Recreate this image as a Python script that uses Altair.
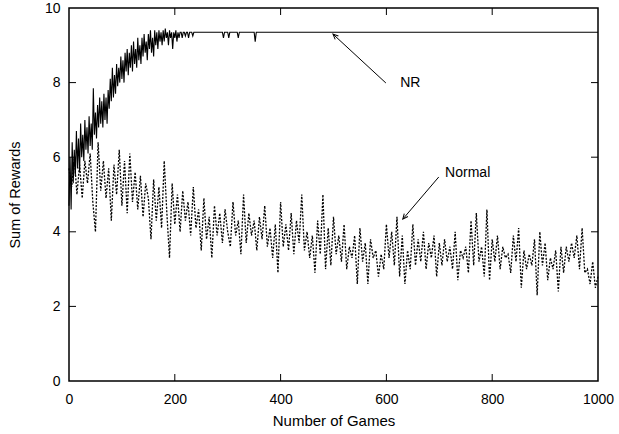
import altair as alt
import pandas as pd

# ---------------- data ----------------
normal_games = list(range(0, 1001, 5))
normal_values = [
    5.7, 5.2, 6.0, 5.0, 5.8, 4.9, 5.9, 5.3, 6.1, 4.8,
    4.0, 6.4, 5.1, 5.9, 4.9, 5.7, 4.3, 5.8, 5.0, 6.2,
    4.7, 5.9, 4.5, 6.1, 4.8, 5.6, 4.6, 5.5, 4.4, 5.3,
    4.9, 3.8, 5.4, 4.3, 5.2, 4.1, 5.9, 4.5, 3.3, 5.3,
    4.2, 5.0, 4.0, 5.1, 4.3, 4.8, 3.9, 5.2, 4.1, 4.6,
    3.5, 4.9, 3.8, 4.4, 3.3, 4.7, 3.9, 4.5, 3.7, 4.6,
    4.0, 3.6, 4.8, 3.9, 4.3, 3.4, 5.0, 3.7, 4.5, 3.9,
    4.3, 3.5, 4.4, 3.8, 4.7, 3.6, 4.1, 3.3, 4.2, 2.9,
    4.8, 3.6, 4.2, 3.5, 4.5, 3.4, 4.3, 3.7, 5.0, 3.5,
    4.0, 3.3, 3.9, 2.9, 4.3, 3.4, 5.0, 3.0, 4.1, 3.1,
    4.4, 3.4, 3.9, 3.2, 4.2, 3.0, 3.6, 3.3, 3.9, 2.6,
    4.1, 3.2, 3.7, 2.6, 3.8, 3.3, 3.5, 2.8, 3.4, 3.0,
    4.2, 3.3, 4.0, 3.1, 4.4, 2.8, 3.9, 2.6, 3.5, 3.0,
    4.2, 3.1, 3.8, 3.2, 4.0, 3.0, 3.7, 3.3, 3.9, 2.8,
    3.7, 3.1, 3.8, 3.2, 3.6, 3.0, 4.0, 2.7, 3.5, 3.3,
    3.6, 2.9, 4.3, 3.1, 4.5, 3.2, 3.6, 2.8, 4.6, 2.7,
    3.8, 3.2, 3.9, 3.0, 3.6, 3.3, 3.4, 2.9, 3.9, 3.2,
    4.1, 2.5, 3.5, 3.0, 3.4, 3.1, 3.8, 2.3, 4.0, 3.1,
    3.7, 2.7, 3.3, 3.0, 3.5, 2.4, 3.6, 2.9, 3.6, 3.2,
    3.7, 3.3, 3.9, 3.0, 4.1, 2.9, 3.0, 2.6, 3.2, 2.5,
    2.8,
]

nr_games = list(range(0, 241, 2)) + [290, 292, 294, 300, 302, 304,
                                      318, 320, 322, 350, 352, 354, 1000]
nr_values = [
    4.7, 6.0, 4.6, 6.4, 5.3, 6.2, 5.5, 6.7, 5.7, 6.5,
    5.6, 6.9, 6.0, 6.6, 5.9, 7.0, 6.2, 6.8, 6.1, 7.1,
    6.3, 6.9, 6.2, 7.85, 6.6, 7.2, 6.5, 7.4, 6.8, 7.6,
    6.9, 7.5, 6.8, 7.7, 7.0, 7.6, 6.9, 7.8, 7.3, 8.1,
    7.5, 8.4, 7.6, 8.2, 7.7, 8.5, 7.9, 8.4, 8.0, 8.7,
    8.1, 8.6, 8.0, 8.8, 8.3, 8.9, 8.2, 8.8, 8.4, 9.0,
    8.3, 9.1, 8.5, 8.9, 8.4, 9.2, 8.6, 9.0, 8.5, 9.2,
    8.7, 9.3, 8.8, 9.1, 8.6, 9.3, 8.9, 9.4, 8.8, 9.2,
    8.7, 9.4, 9.0, 9.35, 8.9, 9.4, 9.1, 9.35, 9.0, 9.4,
    9.1, 9.45, 9.2, 9.35, 9.0, 9.4, 9.2, 9.35, 8.9, 9.35,
    9.2, 9.4, 9.1, 9.35, 9.2, 9.35, 9.35, 9.2, 9.35, 9.35,
    9.25, 9.35, 9.35, 9.2, 9.35, 9.35, 9.35, 9.25, 9.35, 9.35,
    9.35,
    9.35, 9.2, 9.35, 9.35, 9.2, 9.35, 9.35, 9.2, 9.35, 9.35, 9.1, 9.35, 9.35,
]

x_ticks = [0, 200, 400, 600, 800, 1000]
y_ticks = [0, 2, 4, 6, 8, 10]
x_inner = [200, 400, 600, 800]
y_inner = [2, 4, 6, 8]

label_text = ["NR", "Normal"]
label_x = [626, 711]
label_y = [7.99, 5.58]

arrow_x1 = [599, 699]
arrow_y1 = [7.99, 5.47]
arrow_x2 = [499, 631]
arrow_y2 = [9.30, 4.34]
arrow_angle = [313, 219]

FONT = "Liberation Sans"
W, H = 529, 373

normal_df = pd.DataFrame({"game": normal_games, "value": normal_values})
nr_df = pd.DataFrame({"game": nr_games, "value": nr_values})
lab_df = pd.DataFrame({"game": label_x, "value": label_y, "text": label_text})
arr_df = pd.DataFrame({"game": arrow_x1, "value": arrow_y1, "game2": arrow_x2,
                       "value2": arrow_y2, "angle": arrow_angle})
xt_df = pd.DataFrame({"game": x_inner})
yt_df = pd.DataFrame({"value": y_inner})

xscale = alt.Scale(domain=[0, 1000], nice=False, zero=False)
yscale = alt.Scale(domain=[0, 10], nice=False, zero=False)

xaxis = alt.Axis(title="Number of Games", values=x_ticks, tickSize=0,
                 labelPadding=11, grid=False, domain=False, format="d",
                 titlePadding=7, labelFlush=False, labelOverlap=False,
                 titleFontSize=15)
yaxis = alt.Axis(title="Sum of Rewards", values=y_ticks, tickSize=0,
                 labelPadding=9, grid=False, domain=False, format="d",
                 titlePadding=22, labelFlush=False, labelOverlap=False,
                 titleFontSize=14.5)


def X(field="game"):
    return alt.X(f"{field}:Q", scale=xscale, axis=xaxis, title="Number of Games")


def Y(field="value"):
    return alt.Y(f"{field}:Q", scale=yscale, axis=yaxis, title="Sum of Rewards")


normal = alt.Chart(normal_df).mark_line(
    color="black", strokeWidth=1.3, strokeDash=[2, 1.5]
).encode(x=X(), y=Y())

nr = alt.Chart(nr_df).mark_line(color="black", strokeWidth=1.1).encode(x=X(), y=Y())

tick_bottom = alt.Chart(xt_df).mark_rule(color="black", strokeWidth=1).encode(
    x=X(), y=alt.value(H), y2=alt.value(H - 7),
)
tick_top = alt.Chart(xt_df).mark_rule(color="black", strokeWidth=1).encode(
    x=X(), y=alt.value(0), y2=alt.value(7),
)
tick_left = alt.Chart(yt_df).mark_rule(color="black", strokeWidth=1).encode(
    y=Y(), x=alt.value(0), x2=alt.value(7),
)
tick_right = alt.Chart(yt_df).mark_rule(color="black", strokeWidth=1).encode(
    y=Y(), x=alt.value(W), x2=alt.value(W - 7),
)

shafts = alt.Chart(arr_df).mark_rule(color="black", strokeWidth=1).encode(
    x=X(), y=Y(), x2="game2:Q", y2="value2:Q",
)
heads = alt.Chart(arr_df).mark_point(
    shape="M -0.45 1 L 0 0 L 0.45 1", filled=False, color="black",
    strokeWidth=1, size=110, opacity=1
).encode(
    x=X("game2"), y=Y("value2"),
    angle=alt.Angle("angle:Q", scale=None),
)

labels = alt.Chart(lab_df).mark_text(
    align="left", baseline="middle", font=FONT, fontSize=14, color="black"
).encode(x=X(), y=Y(), text="text:N")

chart = alt.layer(
    normal, nr, tick_bottom, tick_top, tick_left, tick_right,
    shafts, heads, labels
).properties(
    width=W, height=H,
    autosize=alt.AutoSizeParams(type="none"),
    padding={"left": 69, "top": 8, "right": 21, "bottom": 53},
    background="white",
).configure_view(
    stroke="black", strokeWidth=1.5
).configure_axis(
    labelFont=FONT, titleFont=FONT, labelFontSize=14,
    labelColor="black", titleColor="black", titleFontWeight="normal",
)

chart.save("out.html", embed_options={"renderer": "svg", "actions": False})
